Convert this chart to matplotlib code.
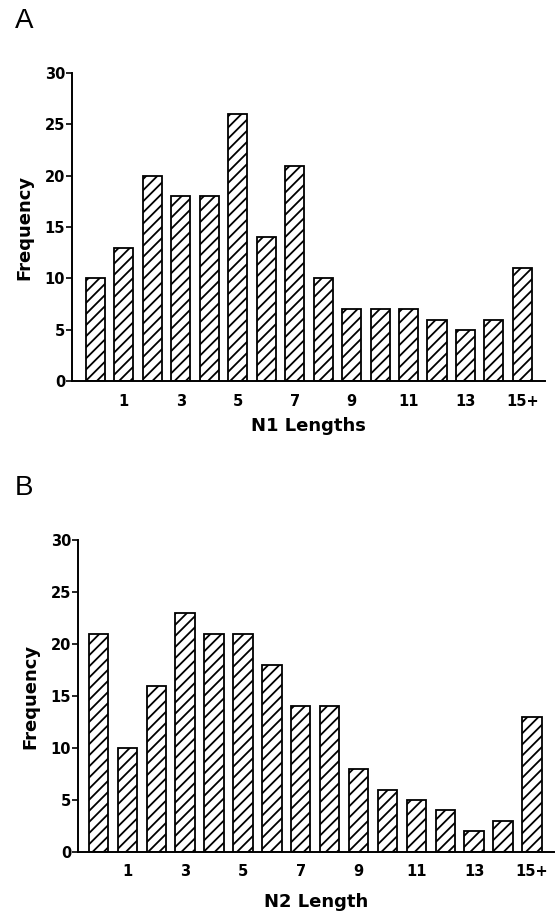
import matplotlib
matplotlib.use("Agg")
import matplotlib.pyplot as plt
import numpy as np

plt.rcParams["font.family"] = ["DejaVu Sans"]
plt.rcParams["hatch.linewidth"] = 1.3

# ── Data ─────────────────────────────────────────────────────────────────────
bins = list(range(16))                       # 0 .. 14, 15+
tick_pos = [1, 3, 5, 7, 9, 11, 13, 15]
tick_labels = ["1", "3", "5", "7", "9", "11", "13", "15+"]
n1_freq = [10, 13, 20, 18, 18, 26, 14, 21, 10, 7, 7, 7, 6, 5, 6, 11]
n2_freq = [21, 10, 16, 23, 21, 21, 18, 14, 14, 8, 6, 5, 4, 2, 3, 13]
y_ticks = [0, 5, 10, 15, 20, 25, 30]

fig = plt.figure(figsize=(5.55, 9.14), dpi=100)

panels = [
    # (rect, values, xlabel, letter, letter_y, xlim, xlabelpad)
    ([0.1297, 0.583, 0.852, 0.337], n1_freq, "N1 Lengths", "A", 0.977, (-0.825, 15.79), 6),
    ([0.1405, 0.068, 0.858, 0.341], n2_freq, "N2 Length", "B", 0.466, (-0.71, 15.77), 10),
]

for rect, vals, xlab, letter, ly, xlim, xpad in panels:
    ax = fig.add_axes(rect)
    ax.bar(bins, vals, width=0.67, color="white", edgecolor="black",
           linewidth=1.3, hatch="///")
    ax.set_xlim(*xlim)
    ax.set_ylim(0, 30)
    ax.set_yticks(y_ticks)
    ax.set_yticklabels([str(t) for t in y_ticks], fontsize=10.5, fontweight="bold")
    ax.set_xticks(tick_pos)
    ax.set_xticklabels(tick_labels, fontsize=10.5, fontweight="bold")
    ax.tick_params(axis="x", length=0, pad=9)
    ax.tick_params(axis="y", length=4, width=1.2, pad=1)
    for s in ("top", "right"):
        ax.spines[s].set_visible(False)
    for s in ("left", "bottom"):
        ax.spines[s].set_linewidth(1.4)
    ax.set_ylabel("Frequency", fontsize=13, fontweight="bold", labelpad=8)
    ax.set_xlabel(xlab, fontsize=13, fontweight="bold", labelpad=xpad)
    fig.text(0.027, ly, letter, fontsize=20, ha="left", va="center",
             family="Liberation Sans")

fig.savefig("out.png", dpi=100)
